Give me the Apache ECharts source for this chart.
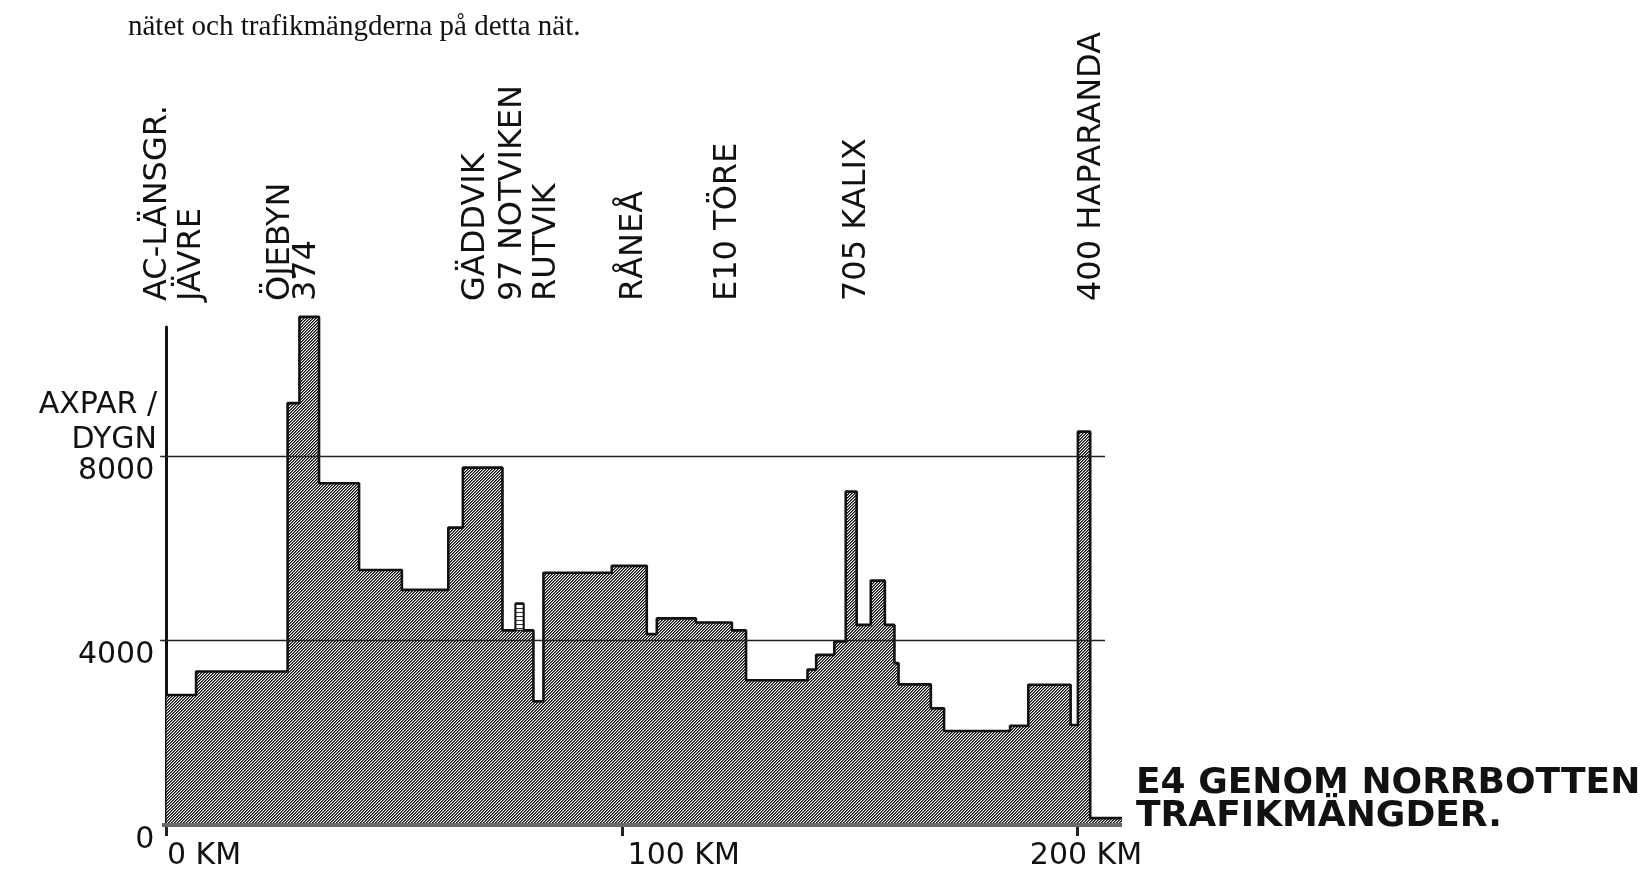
<!DOCTYPE html>
<html>
<head>
<meta charset="utf-8">
<script src="https://cdn.jsdelivr.net/npm/echarts@6.0.0/dist/echarts.min.js"></script>
<style>
html,body{margin:0;padding:0;background:#fff;}
#chart{width:1642px;height:874px;}
</style>
</head>
<body>
<div id="chart"></div>
<script>
// ---- data (km along E4, axle pairs per day) ----
const segStart = [0, 6.5, 26.6, 29.2, 33.5, 42.3, 51.7, 61.9, 65.1, 73.8, 76.7, 78.4, 80.6, 82.8, 97.8, 105.5, 107.7, 116.3, 124.2, 127.3, 140.8, 142.7, 146.7, 149.2, 151.6, 154.7, 157.8, 159.9, 160.8, 167.9, 170.8, 185.3, 189.3, 198.6, 200.2, 202.9];
const routeEnd = 209.9;
const axlePairs = [2820, 3330, 9150, 11020, 7410, 5530, 5100, 6450, 7750, 4220, 4800, 4220, 2680, 5470, 5620, 4140, 4480, 4390, 4220, 3140, 3370, 3690, 3980, 7230, 4340, 5300, 4340, 3510, 3050, 2530, 2040, 2150, 3040, 2170, 8530, 150];
const spurIndex = 10;
const placeNames = ['AC-LÄNSGR.', 'JÄVRE', 'ÖJEBYN', '374', 'GÄDDVIK', '97 NOTVIKEN', 'RUTVIK', 'RÅNEÅ', 'E10 TÖRE', '705 KALIX', '400 HAPARANDA'];
const placeKm = [-1.9, 5.5, 25.0, 30.7, 67.9, 76.0, 83.6, 102.7, 123.2, 151.5, 203.2];
const kmTicks = [0, 100, 200];
const yTicks = [0, 4000, 8000];
const gridValues = [4000, 8000];

// ---- patterns ----
function hatch() {
  const c = document.createElement('canvas'); c.width = 3; c.height = 3;
  const ctx = c.getContext('2d');
  const cols = ['#0d0d0d', '#6a6a6a', '#ffffff'];
  for (let x = 0; x < 3; x++) for (let y = 0; y < 3; y++) { ctx.fillStyle = cols[(x + y) % 3]; ctx.fillRect(x, y, 1, 1); }
  return c;
}
function ladder() {
  const c = document.createElement('canvas'); c.width = 4; c.height = 4;
  const ctx = c.getContext('2d');
  ctx.fillStyle = '#fff'; ctx.fillRect(0, 0, 4, 4);
  ctx.fillStyle = '#333'; ctx.fillRect(0, 0, 4, 1);
  return c;
}
const hatchPattern = { image: hatch(), repeat: 'repeat' };
const ladderPattern = { image: ladder(), repeat: 'repeat' };

const lineData = segStart.map((s, i) => [s, axlePairs[i]]);
lineData.push([routeEnd, axlePairs[axlePairs.length - 1]]);

const FONT = '"DejaVu Sans", "Liberation Sans", sans-serif';
const pxPerKm = 4.5525, xMin = -4, xMax = 210;

const chart = echarts.init(document.getElementById('chart'), null, { renderer: 'canvas' });
const markData = gridValues.map(v => [{ coord: [-1.4, v] }, { coord: [206.15, v] }]);
markData.push([{ coord: [-1, 0], lineStyle: { width: 4, color: '#6a6a6a' } }, { coord: [routeEnd, 0] }]);

chart.setOption({
  animation: false,
  backgroundColor: '#fff',
  grid: { left: 166.5 + xMin * pxPerKm, top: 327, width: (xMax - xMin) * pxPerKm, height: 498, containLabel: false, outerBoundsMode: 'none' },
  xAxis: [{
    type: 'value', min: xMin, max: xMax, position: 'bottom',
    axisLine: { show: false },
    splitLine: { show: false },
    axisTick: { show: true, customValues: kmTicks, length: 11, lineStyle: { color: '#222', width: 3 } },
    axisLabel: {
      customValues: kmTicks, margin: 16, color: '#111', fontFamily: FONT, fontSize: 30,
      formatter: v => '{p' + kmTicks.indexOf(v) + '|' + v + ' KM}',
      rich: {
        p0: { fontFamily: FONT, fontSize: 30, color: '#111', padding: [0, 0, 0, 75] },
        p1: { fontFamily: FONT, fontSize: 30, color: '#111', padding: [0, 0, 0, 124] },
        p2: { fontFamily: FONT, fontSize: 30, color: '#111', padding: [0, 0, 0, 18] }
      }
    }
  }, {
    type: 'value', min: xMin, max: xMax, position: 'top',
    axisLine: { show: false }, axisTick: { show: false }, splitLine: { show: false },
    axisLabel: {
      customValues: placeKm, rotate: -90, margin: 26, color: '#111', fontFamily: FONT, fontSize: 32,
      formatter: v => {
        let best = 0;
        placeKm.forEach((k, i) => { if (Math.abs(k - v) < Math.abs(placeKm[best] - v)) best = i; });
        return placeNames[best];
      }
    }
  }],
  yAxis: {
    type: 'value', min: 0, max: 10800,
    axisLine: { show: true, onZero: true, lineStyle: { color: '#111', width: 3 } },
    axisTick: { show: false },
    splitLine: { show: false },
    axisLabel: { customValues: yTicks, margin: -6, color: '#111', fontFamily: FONT, fontSize: 30, verticalAlign: 'top', formatter: v => String(v) }
  },
  series: [{
    type: 'line', step: 'end', data: lineData, xAxisIndex: 0,
    symbol: 'none', clip: false, silent: true,
    lineStyle: { color: '#111', width: 2.6 },
    areaStyle: { color: hatchPattern, opacity: 1 },
    markLine: { silent: true, symbol: 'none', label: { show: false }, lineStyle: { color: '#222', width: 1.4, type: 'solid' }, data: markData },
    z: 2
  }, {
    type: 'custom', xAxisIndex: 0, silent: true, z: 3,
    data: [[segStart[spurIndex], segStart[spurIndex + 1], axlePairs[spurIndex], axlePairs[spurIndex - 1]]],
    renderItem: (params, api) => {
      const p0 = api.coord([api.value(0), api.value(2)]);
      const p1 = api.coord([api.value(1), api.value(3)]);
      return { type: 'rect', shape: { x: p0[0], y: p0[1], width: p1[0] - p0[0], height: p1[1] - p0[1] },
        style: { fill: ladderPattern, stroke: '#111', lineWidth: 1.5 } };
    }
  }],
  graphic: [
    { type: 'text', left: 128, top: 13, style: { text: 'nätet och trafikmängderna på detta nät.', fill: '#111', font: '29px "Liberation Serif", "DejaVu Serif", serif' } },
    { type: 'text', right: 1485, top: 388, style: { text: 'AXPAR /\nDYGN', fill: '#111', font: '30px ' + FONT, align: 'right', textAlign: 'right', lineHeight: 35 } },
    { type: 'text', left: 1136, top: 766, style: { text: 'E4 GENOM NORRBOTTEN\nTRAFIKMÄNGDER.', fill: '#111', font: 'bold 36px ' + FONT, lineHeight: 33 } }
  ]
});
</script>
</body>
</html>
